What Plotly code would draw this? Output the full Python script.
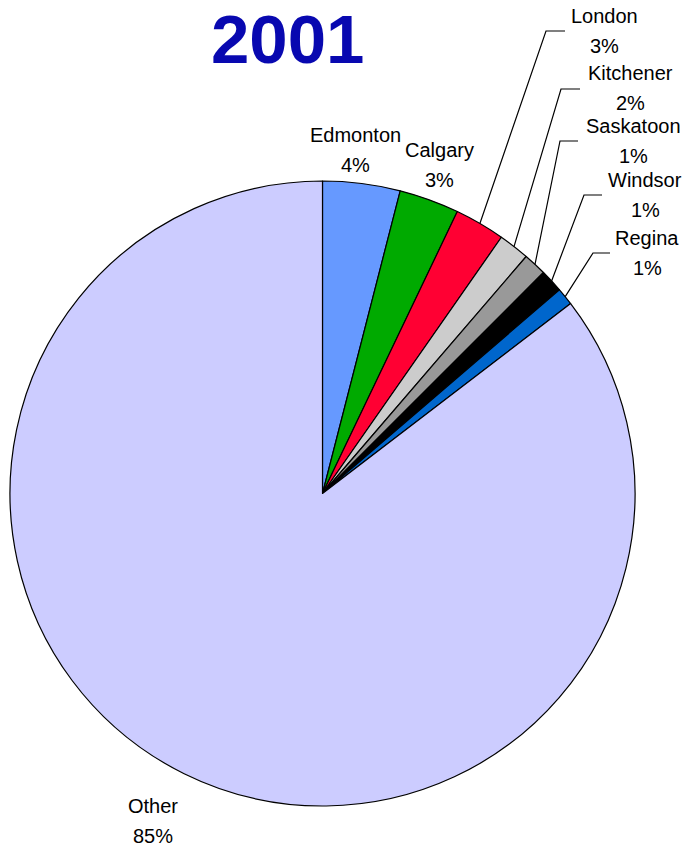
import math
import plotly.graph_objects as go

W, H = 686, 847

cities = ["Edmonton", "Calgary", "London", "Kitchener", "Saskatoon", "Windsor", "Regina", "Other"]
shares = [4.0, 3.1, 2.6, 1.6, 1.2, 1.2, 0.9, 85.4]
colors = ["#6699FF", "#00AA00", "#FF0033", "#CCCCCC", "#999999", "#000000", "#0066CC", "#CCCCFF"]

# label name / percent centre positions (pixels), and leader elbows
name_pos = {
    "Edmonton": (355, 135), "Calgary": (439, 150), "London": (604, 16),
    "Kitchener": (630, 73), "Saskatoon": (633, 126), "Windsor": (645, 180),
    "Regina": (647, 238), "Other": (153, 806),
}
pct_dy = 30
leaders = {
    "London": ((546, 31), 565),
    "Kitchener": ((561, 89), 580),
    "Saskatoon": ((560, 141), 578),
    "Windsor": ((584, 195), 602),
    "Regina": ((593, 253), 610),
}

cx, cy, r = 322.5, 493.5, 312.5

fig = go.Figure()
fig.add_trace(go.Pie(
    labels=cities, values=shares, sort=False, direction="clockwise", rotation=0,
    marker=dict(colors=colors, line=dict(color="black", width=1.2)),
    textinfo="none", hoverinfo="label+percent", showlegend=False,
    domain=dict(x=[(cx - r) / W, (cx + r) / W], y=[(H - cy - r) / H, (H - cy + r) / H]),
))

total = sum(shares)
font = dict(family="Arial, Liberation Sans, sans-serif", size=20, color="black")
annotations = []
shapes = []
cum = 0.0
for c, v in zip(cities, shares):
    mid = (cum + v / 2) / total * 2 * math.pi
    cum += v
    nx, ny = name_pos[c]
    pct = f"{round(v / total * 100)}%"
    annotations.append(dict(x=nx, y=ny, xref="x", yref="y", text=c, showarrow=False,
                            xanchor="center", yanchor="middle", font=font))
    annotations.append(dict(x=nx, y=ny + pct_dy, xref="x", yref="y", text=pct, showarrow=False,
                            xanchor="center", yanchor="middle", font=font))
    if c in leaders:
        sx = cx + r * math.sin(mid)
        sy = cy - r * math.cos(mid)
        (ex, ey), hx = leaders[c]
        shapes.append(dict(type="path", xref="x", yref="y",
                           path=f"M {sx:.1f},{sy:.1f} L {ex},{ey} L {hx},{ey}",
                           line=dict(color="black", width=1.2)))

annotations.append(dict(x=288, y=0, xref="x", yref="y", text="<b>2001</b>", showarrow=False,
                        xanchor="center", yanchor="top", borderpad=0,
                        font=dict(family="Arial, Liberation Sans, sans-serif", size=69, color="#0808B0")))

fig.update_layout(
    width=W, height=H, margin=dict(l=0, r=0, t=0, b=0),
    paper_bgcolor="white", plot_bgcolor="rgba(0,0,0,0)",
    xaxis=dict(range=[0, W], visible=False, domain=[0, 1], fixedrange=True),
    yaxis=dict(range=[H, 0], visible=False, domain=[0, 1], fixedrange=True),
    annotations=annotations, shapes=shapes,
)
fig.write_html("out.html", config={"displayModeBar": False},
               post_script="document.body.style.margin='0';document.body.style.overflow='hidden';")
